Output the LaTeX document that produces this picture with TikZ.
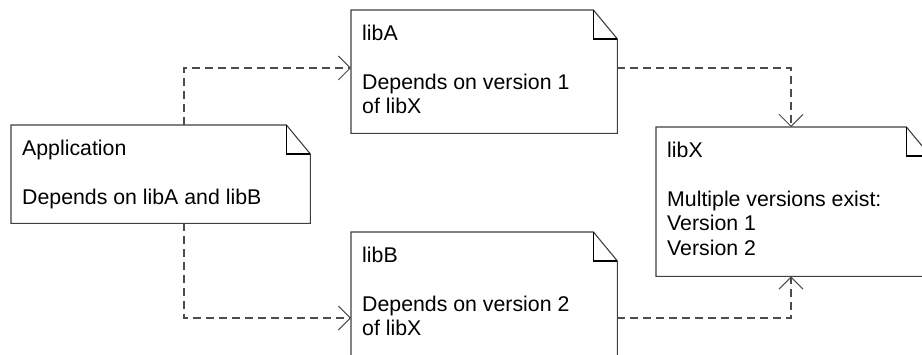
\documentclass[tikz,border=0pt]{standalone}
\usepackage{fontspec}
\setmainfont{Liberation Sans}
\usetikzlibrary{arrows.meta}
\begin{document}
\begin{tikzpicture}[x=1pt,y=-1pt,
  notebox/.style={rectangle, draw=none, inner sep=0pt, anchor=north west},
  notetext/.style={anchor=north west, inner sep=0pt, align=left,
    font=\fontsize{21.3}{24.5}\selectfont, xshift=11pt, yshift=-14.6pt},
  outline/.style={draw=black!75, line width=1.1pt, line join=miter},
  fold/.style={draw=black, line width=1.5pt},
  dep/.style={draw=black!70, line width=1.1pt, dash pattern=on 8pt off 5pt,
    -{Straight Barb[length=12pt,width=24pt,line width=1pt]}}]
\useasboundingbox[fill=white] (0,0) rectangle (922,355);

\node[notebox, minimum width=299pt, minimum height=98pt,
  label={[notetext]north west:{Application\\[24.5pt]Depends on libA and libB}}] (app) at (11,125) {};
\node[notebox, minimum width=266pt, minimum height=123pt,
  label={[notetext]north west:{libA\\[24.5pt]Depends on version 1\\of libX}}] (libA) at (351,10) {};
\node[notebox, minimum width=266pt, minimum height=126pt,
  label={[notetext]north west:{libB\\[24.5pt]Depends on version 2\\of libX}}] (libB) at (351,232) {};
\node[notebox, minimum width=274pt, minimum height=149pt,
  label={[notetext]north west:{libX\\[24.5pt]Multiple versions exist:\\Version 1\\Version 2}}] (libX) at (656,127) {};

\foreach \n in {app,libA,libB,libX} {
  \draw[outline] (\n.north west) -- ([xshift=-24pt]\n.north east)
    -- ([yshift=-29pt]\n.north east) -- (\n.south east) -- (\n.south west) -- cycle;
  \draw[fold] ([xshift=-24pt]\n.north east) |- ([yshift=-29pt]\n.north east);
}

\draw[dep] ([xshift=173pt]app.north west) |- ([yshift=-58pt]libA.north west);
\draw[dep] ([xshift=173pt]app.south west) |- ([yshift=-86pt]libB.north west);
\draw[dep] ([yshift=-58pt]libA.north east) -| ([xshift=135pt]libX.north west);
\draw[dep] ([yshift=-86pt]libB.north east) -| ([xshift=135pt]libX.south west);
\end{tikzpicture}
\end{document}
